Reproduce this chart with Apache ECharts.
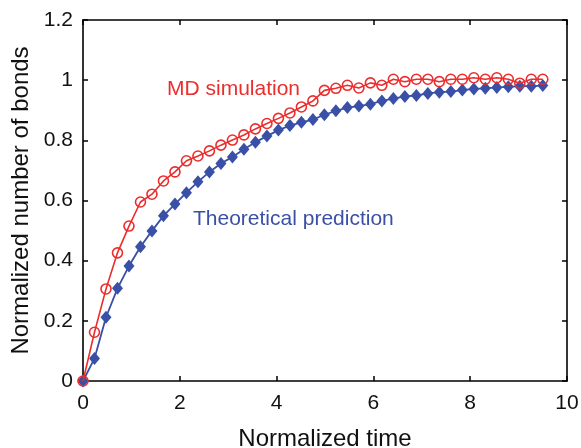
<!DOCTYPE html>
<html>
<head>
<meta charset="utf-8">
<script src="https://cdn.jsdelivr.net/npm/echarts@6/dist/echarts.min.js"></script>
<style>
  html, body { margin: 0; padding: 0; background: #ffffff; }
  #chart { width: 581px; height: 448px; }
</style>
</head>
<body>
<div id="chart"></div>
<script>
// Normalized time of each sample
const times = [0, 0.2375, 0.475, 0.7125, 0.95, 1.1875, 1.425, 1.6625, 1.9, 2.1375,
  2.375, 2.6125, 2.85, 3.0875, 3.325, 3.5625, 3.8, 4.0375, 4.275, 4.5125,
  4.75, 4.9875, 5.225, 5.4625, 5.7, 5.9375, 6.175, 6.4125, 6.65, 6.8875,
  7.125, 7.3625, 7.6, 7.8375, 8.075, 8.3125, 8.55, 8.7875, 9.025, 9.2625, 9.5];

// Normalized number of bonds from the MD simulation
const mdSimulation = [0, 0.162, 0.306, 0.426, 0.515, 0.595, 0.621, 0.665, 0.695, 0.732,
  0.748, 0.765, 0.784, 0.801, 0.818, 0.838, 0.856, 0.873, 0.891, 0.911,
  0.931, 0.966, 0.973, 0.983, 0.974, 0.991, 0.983, 1.003, 0.995, 1.003,
  1.003, 0.995, 1.003, 1.003, 1.008, 1.003, 1.008, 1.003, 0.990, 1.003, 1.003];

// Normalized number of bonds from the theoretical prediction
const theoretical = [0, 0.075, 0.212, 0.308, 0.382, 0.446, 0.499, 0.549, 0.588, 0.626,
  0.662, 0.695, 0.723, 0.745, 0.770, 0.794, 0.814, 0.834, 0.849, 0.860,
  0.869, 0.885, 0.898, 0.909, 0.914, 0.920, 0.931, 0.939, 0.946, 0.949,
  0.956, 0.960, 0.962, 0.967, 0.971, 0.973, 0.976, 0.978, 0.980, 0.980, 0.982];

const xTicks = [0, 2, 4, 6, 8, 10];
const yTicks = [0, 0.2, 0.4, 0.6, 0.8, 1, 1.2];

const xName = 'Normalized time';
const yName = 'Normalized number of bonds';
const mdLabel = 'MD simulation';
const theoryLabel = 'Theoretical prediction';

const RED = '#ec2d2d';
const BLUE = '#3a50a6';
const FONT = '"Liberation Sans", Arial, Helvetica, sans-serif';

const pair = (xs, ys) => xs.map((x, i) => [x, ys[i]]);

const xMin = xTicks[0], xMax = xTicks[xTicks.length - 1];
const yMin = yTicks[0], yMax = yTicks[yTicks.length - 1];
const xStep = xTicks[1] - xTicks[0];
const yStep = +(yTicks[1] - yTicks[0]).toFixed(6);

const chart = echarts.init(document.getElementById('chart'), null, { renderer: 'canvas' });

const axisLine = { show: true, onZero: false, lineStyle: { color: '#000', width: 1.6 } };
const axisTick = { show: true, inside: true, length: 5, lineStyle: { color: '#000', width: 1.5 } };

chart.setOption({
  backgroundColor: '#ffffff',
  animation: false,
  grid: { left: 83, right: 14, top: 20, bottom: 67, containLabel: false, outerBoundsMode: 'none' },
  xAxis: [
    {
      type: 'value', position: 'bottom', min: xMin, max: xMax, interval: xStep,
      name: xName, nameLocation: 'middle', nameGap: 46,
      nameTextStyle: { fontFamily: FONT, fontSize: 24, color: '#111' },
      axisLine, axisTick,
      axisLabel: { fontFamily: FONT, fontSize: 21, color: '#111', margin: 12 },
      splitLine: { show: false }
    },
    {
      type: 'value', position: 'top', min: xMin, max: xMax, interval: xStep,
      axisLine, axisTick, axisLabel: { show: false }, splitLine: { show: false }
    }
  ],
  yAxis: [
    {
      type: 'value', position: 'left', min: yMin, max: yMax, interval: yStep,
      name: yName, nameLocation: 'middle', nameGap: 47,
      nameTextStyle: { fontFamily: FONT, fontSize: 24, color: '#111' },
      axisLine, axisTick,
      axisLabel: { fontFamily: FONT, fontSize: 21, color: '#111', margin: 10 },
      splitLine: { show: false }
    },
    {
      type: 'value', position: 'right', min: yMin, max: yMax, interval: yStep,
      axisLine, axisTick, axisLabel: { show: false }, splitLine: { show: false }
    }
  ],
  series: [
    {
      name: theoryLabel, type: 'line', data: pair(times, theoretical),
      symbol: 'diamond', symbolSize: [11, 13],
      lineStyle: { color: BLUE, width: 1.8 },
      itemStyle: { color: BLUE, borderWidth: 0 },
      z: 2
    },
    {
      name: mdLabel, type: 'line', data: pair(times, mdSimulation),
      symbol: 'circle', symbolSize: 10,
      lineStyle: { color: RED, width: 1.6 },
      itemStyle: { color: 'rgba(255,255,255,0)', borderColor: RED, borderWidth: 1.6 },
      z: 3
    }
  ],
  graphic: [
    {
      type: 'text', left: 167, top: 79,
      style: { text: mdLabel, fill: RED, font: '21px ' + FONT }
    },
    {
      type: 'text', left: 193, top: 209,
      style: { text: theoryLabel, fill: BLUE, font: '21px ' + FONT }
    }
  ]
});
</script>
</body>
</html>
